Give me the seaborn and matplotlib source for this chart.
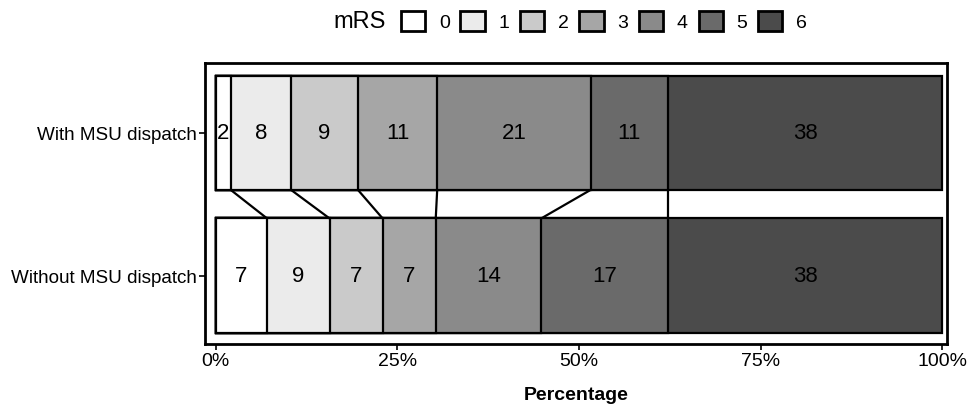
import numpy as np
import seaborn as sns
import matplotlib.pyplot as plt
from matplotlib.patches import Patch

# data
groups = ["With MSU dispatch", "Without MSU dispatch"]
mrs_levels = ["0", "1", "2", "3", "4", "5", "6"]
with_msu = [2.1, 8.3, 9.2, 10.9, 21.1, 10.7, 37.7]
without_msu = [7.1, 8.6, 7.3, 7.3, 14.5, 17.5, 37.7]
with_labels = [2, 8, 9, 11, 21, 11, 38]
without_labels = [7, 9, 7, 7, 14, 17, 38]
grays = ["#ffffff", "#ebebeb", "#cacaca", "#a6a6a6", "#8a8a8a", "#6a6a6a", "#4b4b4b"]

sns.set_style("white")
plt.rcParams['font.family'] = ['Liberation Sans', 'DejaVu Sans']
plt.rcParams['text.color'] = 'black'
plt.rcParams['xtick.color'] = 'black'
plt.rcParams['ytick.color'] = 'black'
plt.rcParams['axes.labelcolor'] = 'black'

fig = plt.figure(figsize=(9.69, 4.06), dpi=100)
ax = fig.add_axes([205/969, 1-345/406, (947-205)/969, (345-64)/406])

cum_with = np.cumsum(with_msu)
cum_without = np.cumsum(without_msu)

# stacked bars: draw the cumulative totals from largest to smallest
for i in reversed(range(len(mrs_levels))):
    sns.barplot(x=[cum_with[i], cum_without[i]], y=groups, orient="h",
                color=grays[i], saturation=1, edgecolor="black",
                linewidth=1.6, width=0.8, ax=ax)

# segment labels
for row, (vals, cum, labs) in enumerate([(with_msu, cum_with, with_labels),
                                          (without_msu, cum_without, without_labels)]):
    for v, c, lab in zip(vals, cum, labs):
        ax.text(c - v/2, row, str(lab), ha="center", va="center", fontsize=16, color="black")

# connecting lines between rows
for i in range(len(mrs_levels) - 1):
    ax.plot([cum_with[i], cum_without[i]], [0.4, 0.6], color="black", lw=1.6)

ax.set_xlim(-1.45, 100.65)
ax.set_ylim(1.48, -0.49)
ax.set_xticks([0, 25, 50, 75, 100])
ax.set_xticklabels(["0%", "25%", "50%", "75%", "100%"], fontsize=14)
ax.tick_params(axis="y", labelsize=13.6)
ax.tick_params(axis="both", length=4, width=1.2, color="black", bottom=True, left=True, pad=2)
ax.set_xlabel("Percentage", fontsize=14, fontweight="bold", labelpad=12)
ax.set_ylabel("")
for s in ax.spines.values():
    s.set_visible(True)
    s.set_color("black")
    s.set_linewidth(2)

handles = [Patch(facecolor=g, edgecolor="black", linewidth=2) for g in grays]
fig.legend(handles, mrs_levels, loc="center left", bbox_to_anchor=(401/969, 1-22/406),
           ncol=7, frameon=False, fontsize=14, handlelength=1.25, handleheight=1.25,
           handletextpad=0.7, columnspacing=0.55, borderpad=0, borderaxespad=0)
fig.text(360/969, 1-22/406, "mRS", ha="center", va="center", fontsize=17)

fig.savefig("out.png", dpi=100)
